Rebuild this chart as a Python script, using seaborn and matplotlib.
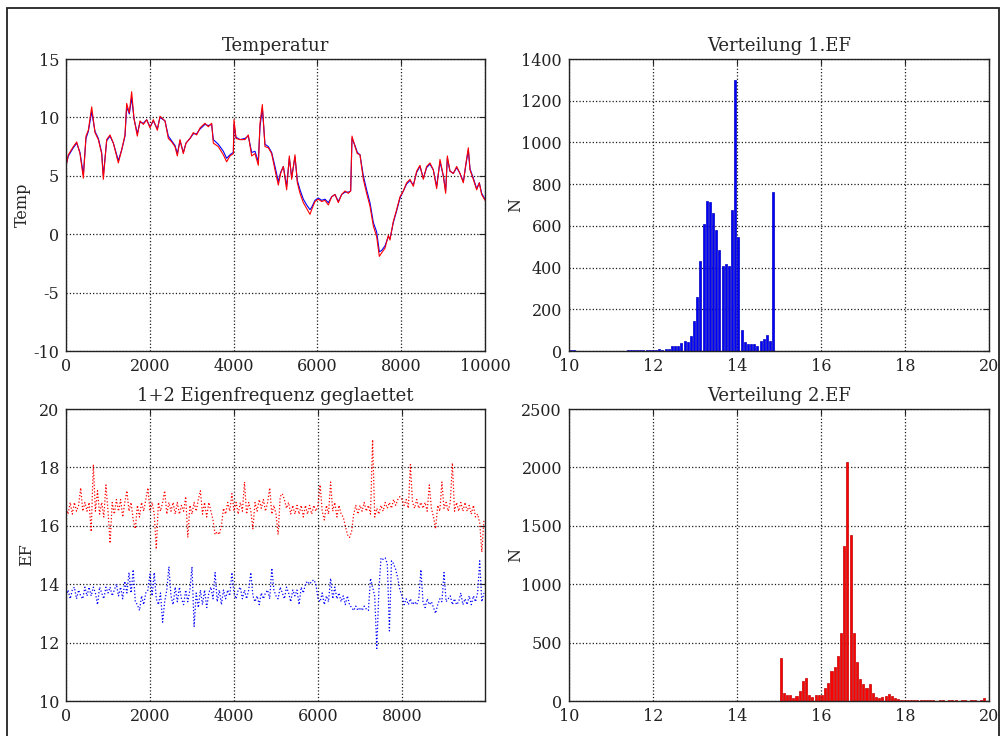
import matplotlib
matplotlib.use("Agg")
import matplotlib.pyplot as plt
import numpy as np
import pandas as pd
import seaborn as sns
from matplotlib.patches import Rectangle

# --- Temperatur (sample index vs. temperature, raw = red, smoothed = blue)
temp_x = [
    0, 56, 175, 255, 334, 414, 477, 533, 613, 692,
    772, 851, 891, 971, 1050, 1130, 1249, 1328, 1408, 1448,
    1511, 1567, 1623, 1702, 1766, 1846, 1925, 2005, 2084, 2180,
    2243, 2363, 2442, 2522, 2601, 2657, 2721, 2800, 2864, 2959,
    3039, 3118, 3198, 3317, 3397, 3476, 3516, 3635, 3755, 3834,
    3914, 3994, 4009, 4057, 4152, 4272, 4351, 4431, 4510, 4590,
    4630, 4686, 4749, 4829, 4908, 4988, 5067, 5123, 5187, 5266,
    5330, 5386, 5465, 5521, 5585, 5664, 5744, 5823, 5863, 5942,
    6022, 6101, 6181, 6261, 6340, 6420, 6499, 6579, 6658, 6738,
    6794, 6826, 6897, 6953, 7016, 7096, 7175, 7255, 7335, 7414,
    7478, 7533, 7613, 7693, 7732, 7812, 7891, 7971, 8050, 8130,
    8210, 8289, 8369, 8448, 8528, 8607, 8687, 8767, 8846, 8926,
    9005, 9061, 9101, 9164, 9244, 9324, 9403, 9483, 9546, 9602,
    9642, 9721, 9801, 9864, 9920, 10000,
]
temp_red = [
    5.8, 6.8, 7.5, 7.9, 6.9, 4.8, 8.4, 8.9, 10.9, 8.7,
    8.1, 6.9, 4.7, 8.1, 8.5, 7.8, 6.1, 7.2, 8.5, 11.2,
    10.4, 12.2, 9.9, 8.4, 9.7, 9.4, 9.8, 9.1, 9.8, 8.9,
    10.1, 9.7, 8.2, 7.9, 7.5, 6.7, 8.1, 6.9, 7.8, 8.2,
    8.7, 8.5, 9.1, 9.5, 9.2, 9.5, 7.8, 7.5, 6.8, 6.2,
    6.7, 6.9, 9.8, 8.2, 8.1, 8.1, 8.5, 6.7, 6.9, 5.9,
    9.5, 11.1, 7.5, 7.4, 6.9, 5.5, 4.2, 5.2, 5.8, 3.8,
    6.7, 4.7, 6.8, 4.4, 3.5, 2.7, 2.2, 1.7, 2.1, 2.8,
    3.0, 2.8, 2.9, 2.5, 3.2, 3.4, 2.7, 3.4, 3.7, 3.5,
    3.7, 8.4, 7.5, 6.9, 6.8, 4.7, 3.5, 2.4, 0.7, -0.2,
    -1.9, -1.6, -1.2, -0.1, -0.5, 1.1, 2.1, 3.2, 3.7, 4.4,
    4.7, 4.1, 5.4, 5.9, 4.7, 5.8, 6.1, 5.5, 3.9, 6.4,
    5.0, 3.5, 6.7, 5.4, 5.2, 5.8, 5.2, 4.4, 6.1, 7.4,
    5.5, 4.7, 3.8, 4.4, 3.4, 2.9,
]
temp_blue = [
    5.9, 6.7, 7.4, 7.8, 7.0, 5.1, 8.2, 8.8, 10.5, 8.8,
    8.2, 7.0, 5.0, 8.0, 8.4, 7.8, 6.3, 7.2, 8.4, 10.9,
    10.3, 11.7, 9.9, 8.6, 9.6, 9.5, 9.8, 9.2, 9.7, 9.0,
    10.0, 9.7, 8.4, 8.0, 7.6, 6.9, 8.0, 7.0, 7.8, 8.2,
    8.6, 8.6, 9.0, 9.4, 9.3, 9.4, 8.1, 7.7, 7.1, 6.5,
    6.8, 7.0, 9.4, 8.3, 8.1, 8.2, 8.4, 7.0, 7.1, 6.2,
    9.2, 10.8, 7.7, 7.5, 7.0, 5.8, 4.5, 5.3, 5.8, 4.1,
    6.5, 4.9, 6.6, 4.6, 3.8, 3.0, 2.5, 2.1, 2.3, 2.9,
    3.1, 2.9, 3.0, 2.7, 3.2, 3.4, 2.8, 3.4, 3.6, 3.6,
    3.7, 8.2, 7.6, 7.0, 6.8, 5.0, 3.8, 2.7, 1.0, 0.2,
    -1.5, -1.4, -1.0, -0.2, -0.4, 1.0, 2.0, 3.1, 3.7, 4.3,
    4.6, 4.2, 5.3, 5.8, 4.8, 5.7, 6.0, 5.5, 4.1, 6.2,
    5.0, 3.7, 6.5, 5.4, 5.2, 5.7, 5.2, 4.5, 6.0, 7.2,
    5.6, 4.8, 3.9, 4.4, 3.5, 3.0,
]

# --- 1+2 Eigenfrequenz geglaettet, one reading every 50 samples
ef_idx = np.arange(0, 10000, 50)
ef2_red = [
    16.6, 16.4, 16.8, 16.4, 16.8, 16.5, 16.7, 17.3, 16.5, 16.8,
    16.5, 16.8, 15.8, 18.1, 16.5, 17.2, 16.4, 16.8, 16.3, 17.4,
    16.5, 15.4, 16.8, 16.4, 16.9, 16.5, 16.9, 16.3, 16.8, 17.2,
    16.5, 16.8, 16.2, 15.9, 16.7, 16.3, 16.8, 16.5, 16.9, 17.3,
    16.5, 16.8, 16.4, 15.2, 16.8, 16.5, 16.8, 17.2, 16.4, 16.8,
    16.5, 16.8, 16.4, 16.8, 16.4, 16.7, 16.5, 17.0, 15.6, 16.7,
    16.4, 16.8, 16.5, 16.9, 17.2, 16.4, 16.8, 16.3, 16.8, 16.5,
    16.2, 15.7, 15.8, 15.7, 16.0, 16.6, 16.4, 16.8, 16.5, 17.1,
    16.5, 16.8, 16.4, 16.8, 16.5, 17.5, 16.4, 16.8, 16.5, 15.9,
    16.8, 16.5, 16.9, 16.6, 16.9, 16.5, 16.8, 17.3, 16.4, 16.7,
    16.4, 15.7, 17.0, 17.1, 16.9, 16.6, 16.8, 16.4, 16.7, 16.4,
    16.7, 16.4, 16.7, 16.3, 16.7, 16.4, 16.7, 16.4, 16.7, 16.5,
    16.7, 17.4, 16.5, 16.2, 16.7, 16.4, 17.5, 16.5, 16.8, 16.3,
    16.7, 16.4, 16.3, 16.0, 15.7, 15.6, 15.8, 16.4, 16.7, 16.4,
    16.7, 16.5, 16.8, 16.5, 16.7, 16.4, 18.95, 16.3, 16.6, 16.4,
    16.7, 16.5, 16.8, 16.6, 16.8, 16.6, 16.9, 16.7, 16.9, 17.0,
    16.9, 16.7, 16.9, 16.6, 18.1, 16.8, 16.6, 16.9, 16.6, 16.8,
    16.6, 16.8, 16.5, 17.4, 16.6, 16.3, 15.9, 16.7, 16.5, 17.5,
    16.6, 16.8, 16.5, 16.8, 18.15, 16.5, 16.8, 16.5, 16.8, 16.5,
    16.8, 16.5, 16.7, 16.4, 16.7, 16.3, 16.4, 16.1, 15.1, 16.2,
]
ef1_blue = [
    13.6, 13.8, 13.5, 13.8, 13.9, 13.5, 13.8, 13.6, 13.5, 13.9,
    13.6, 13.9, 13.6, 13.9, 13.7, 13.3, 13.9, 13.7, 13.5, 13.9,
    13.7, 13.9, 13.6, 13.8, 14.0, 13.6, 13.9, 13.5, 14.1, 13.7,
    14.4, 13.7, 14.5, 13.4, 13.3, 13.1, 13.6, 13.3, 13.7, 13.8,
    14.35, 13.6, 14.4, 13.5, 13.3, 13.7, 12.7, 13.4, 13.8, 14.6,
    13.6, 13.3, 13.9, 13.4, 13.9, 13.5, 13.3, 13.8, 13.4, 13.8,
    14.6, 12.55, 13.7, 13.2, 13.8, 13.3, 13.8, 13.2, 13.7, 13.9,
    13.5, 14.4, 13.4, 13.8, 13.3, 13.8, 13.5, 13.8, 13.6, 14.4,
    13.7, 13.5, 13.8, 13.9, 13.5, 13.8, 13.5, 13.8, 14.4, 13.6,
    13.4, 13.6, 13.3, 13.7, 13.5, 13.7, 13.8, 13.5, 14.55, 13.8,
    13.6, 13.5, 13.9, 13.7, 13.5, 13.9, 13.7, 13.4, 13.8, 13.6,
    13.8, 13.3, 13.9, 13.7, 14.0, 14.1, 14.0, 14.1, 14.15, 14.0,
    13.5, 13.4, 13.7, 13.3, 13.6, 13.4, 14.2, 13.5, 13.9, 13.5,
    13.7, 13.4, 13.6, 13.3, 13.6, 13.3, 13.2, 13.1, 13.25, 13.1,
    13.2, 13.1, 13.25, 13.15, 13.1, 14.2, 13.9, 13.6, 11.8, 13.8,
    14.9, 14.85, 14.9, 14.7, 12.4, 14.8, 14.7, 14.5, 14.2, 13.8,
    13.6, 13.3, 13.5, 13.3, 13.5, 13.3, 13.4, 13.3, 13.5, 14.5,
    13.4, 13.2, 13.5, 13.3, 13.4, 13.2, 13.0, 13.3, 13.5, 13.4,
    14.4, 13.4, 13.5, 13.6, 13.3, 13.5, 13.3, 13.4, 13.7, 13.3,
    13.5, 13.3, 13.6, 13.3, 13.6, 13.4, 13.7, 14.8, 13.4, 13.7,
]

# --- Verteilung 1.EF: counts per bin, bins from 10.0 to 14.9
ef1_edges = np.linspace(10.0, 14.9, 66)
ef1_counts = [
    5, 3, 2, 2, 1, 1, 1, 1, 1, 1,
    1, 1, 1, 1, 1, 1, 2, 2, 3, 3,
    4, 4, 3, 5, 6, 6, 7, 6, 8, 7,
    8, 8, 25, 25, 25, 38, 46, 43, 74, 144,
    260, 431, 610, 718, 713, 660, 580, 484, 407, 418,
    407, 676, 1298, 545, 100, 43, 32, 32, 32, 26,
    48, 56, 79, 46, 763,
]

# --- Verteilung 2.EF: counts per bin, bins from 15.0 to 20.0
ef2_edges = np.linspace(15.0, 20.0, 67)
ef2_counts = [
    364, 72, 52, 49, 23, 40, 86, 171, 200, 52,
    34, 49, 52, 52, 115, 152, 258, 295, 387, 585,
    1324, 2046, 1421, 585, 338, 186, 143, 115, 143, 72,
    34, 29, 34, 43, 63, 40, 23, 14, 11, 9,
    12, 8, 6, 7, 5, 6, 8, 5, 6, 4,
    5, 7, 4, 5, 6, 5, 4, 6, 5, 4,
    6, 5, 4, 6, 23, 4,
]

RED = "#ff0000"
BLUE = "#0000ff"

sns.set_theme(style="white")
plt.rcParams["font.family"] = ["DejaVu Serif"]
plt.rcParams["axes.unicode_minus"] = False
plt.rcParams["xtick.direction"] = "in"
plt.rcParams["ytick.direction"] = "in"
plt.rcParams["xtick.top"] = True
plt.rcParams["ytick.right"] = True

W, H = 1003, 736
fig = plt.figure(figsize=(W / 100, H / 100), dpi=100)
fig.patch.set_facecolor("white")


def box(left, top, right, bottom):
    return [left / W, 1 - bottom / H, (right - left) / W, (bottom - top) / H]


ax_t = fig.add_axes(box(66, 59, 485, 351))
ax_h1 = fig.add_axes(box(569, 59, 989, 351))
ax_ef = fig.add_axes(box(66, 409, 485, 701))
ax_h2 = fig.add_axes(box(569, 409, 989, 701))

sns.lineplot(x=temp_x, y=temp_blue, ax=ax_t, color=BLUE, lw=0.8, estimator=None)
sns.lineplot(x=temp_x, y=temp_red, ax=ax_t, color=RED, lw=0.8, estimator=None)
ax_t.set_xlim(0, 10000)
ax_t.set_ylim(-10, 15)
ax_t.set_xticks(range(0, 10001, 2000))
ax_t.set_yticks(range(-10, 16, 5))
ax_t.set_title("Temperatur")
ax_t.set_ylabel("Temp")
ax_t.yaxis.set_label_coords(-0.0835, 0.5)

sns.lineplot(x=ef_idx, y=ef2_red, ax=ax_ef, color=RED, lw=0.9, ls=":", estimator=None)
sns.lineplot(x=ef_idx, y=ef1_blue, ax=ax_ef, color=BLUE, lw=0.9, ls=":", estimator=None)
ax_ef.set_xlim(0, 9976)
ax_ef.set_ylim(10, 20)
ax_ef.set_xticks(range(0, 8001, 2000))
ax_ef.set_yticks(range(10, 21, 2))
ax_ef.set_title("1+2 Eigenfrequenz geglaettet")
ax_ef.set_ylabel("EF")
ax_ef.yaxis.set_label_coords(-0.074, 0.5)


def draw_hist(ax, edges, counts, fill, edge):
    centers = (edges[:-1] + edges[1:]) / 2
    df = pd.DataFrame({"ef": centers, "n": counts})
    sns.histplot(data=df, x="ef", weights="n", bins=list(edges), ax=ax,
                 color=fill, alpha=1, shrink=0.65, edgecolor=edge, linewidth=0.5)


draw_hist(ax_h1, ef1_edges, ef1_counts, BLUE, "#0000c0")
ax_h1.set_xlim(10, 20)
ax_h1.set_ylim(0, 1400)
ax_h1.set_xticks(range(10, 21, 2))
ax_h1.set_yticks(range(0, 1401, 200))
ax_h1.set_title("Verteilung 1.EF")
ax_h1.set_ylabel("N")
ax_h1.yaxis.set_label_coords(-0.107, 0.5)

draw_hist(ax_h2, ef2_edges, ef2_counts, RED, "#c00000")
ax_h2.set_xlim(10, 20)
ax_h2.set_ylim(0, 2500)
ax_h2.set_xticks(range(10, 21, 2))
ax_h2.set_yticks(range(0, 2501, 500))
ax_h2.set_title("Verteilung 2.EF")
ax_h2.set_ylabel("N")
ax_h2.yaxis.set_label_coords(-0.107, 0.5)

for ax in (ax_t, ax_h1, ax_ef, ax_h2):
    ax.grid(True, color="k", linestyle=":", linewidth=0.9)
    ax.set_xlabel("")
    ax.title.set_fontsize(13)
    ax.yaxis.label.set_fontsize(11.5)
    ax.tick_params(labelsize=11.5, length=4, width=0.8, pad=5, colors="#222222")
    for s in ax.spines.values():
        s.set_color("#222222")
        s.set_linewidth(1.0)

fig.add_artist(Rectangle((7 / W, -0.02), (999 - 7) / W, 1 - 7.5 / H + 0.02,
                         transform=fig.transFigure, fill=False, lw=1.3,
                         ec="#222222"))

fig.savefig("out.png", dpi=100)
